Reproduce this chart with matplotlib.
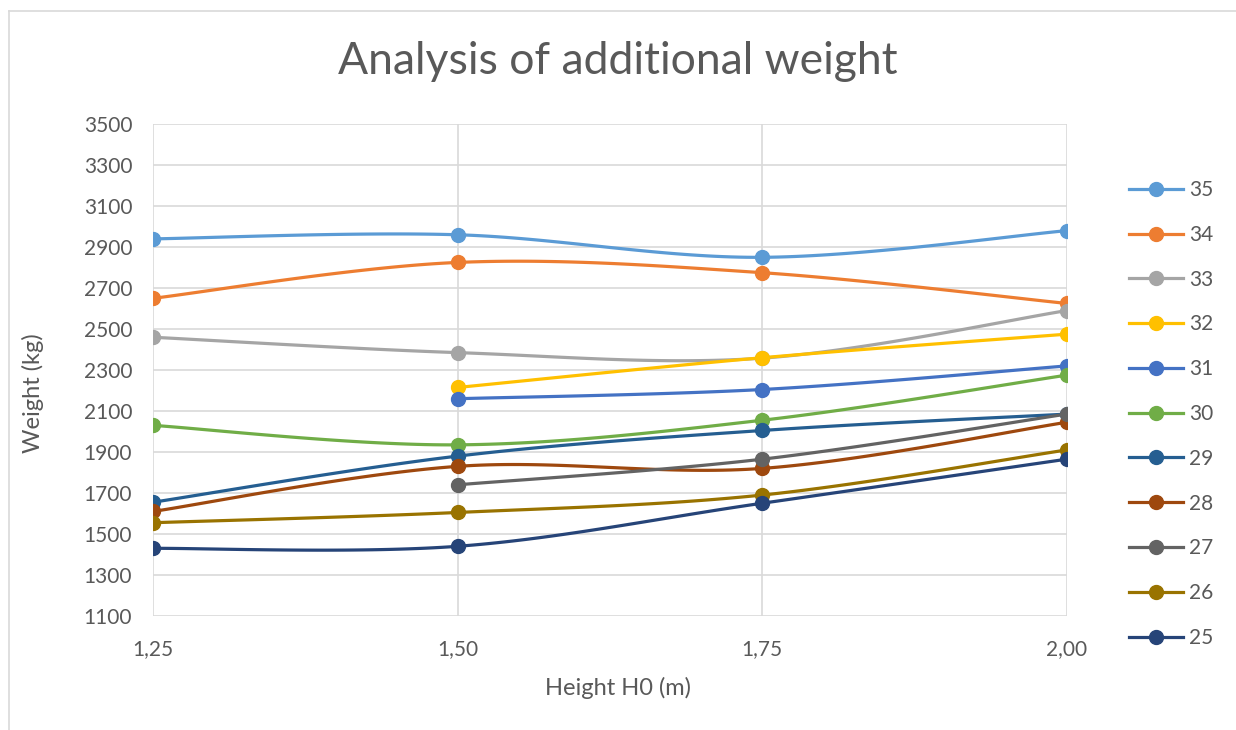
import matplotlib

matplotlib.use("Agg")
import matplotlib.pyplot as plt
import numpy as np

plt.rcParams["font.family"] = ["Lato", "DejaVu Sans"]

heights = [1.25, 1.50, 1.75, 2.00]
series_names = ["35", "34", "33", "32", "31", "30", "29", "28", "27", "26", "25"]
w35 = [2940, 2960, 2850, 2980]
w34 = [2650, 2825, 2775, 2625]
w33 = [2460, 2385, 2358, 2590]
w32 = [None, 2215, 2360, 2475]
w31 = [None, 2160, 2205, 2320]
w30 = [2030, 1935, 2055, 2275]
w29 = [1655, 1880, 2005, 2085]
w28 = [1610, 1830, 1820, 2045]
w27 = [None, 1740, 1865, 2085]
w26 = [1555, 1605, 1690, 1910]
w25 = [1430, 1440, 1650, 1865]
colors = ["#5B9BD5", "#ED7D31", "#A5A5A5", "#FFC000", "#4472C4", "#70AD47",
          "#255E91", "#9E480E", "#636363", "#997300", "#264478"]
all_weights = [w35, w34, w33, w32, w31, w30, w29, w28, w27, w26, w25]
y_ticks = list(range(1100, 3501, 200))

TEXT = "#595959"
GRID = "#D9D9D9"


def smooth(xs, ys, n=40):
    # Excel-style smoothing: cubic Bezier with control points from neighbours
    xs = np.asarray(xs, float)
    ys = np.asarray(ys, float)
    px, py = [], []
    for i in range(len(xs) - 1):
        x0, y0 = xs[max(i - 1, 0)], ys[max(i - 1, 0)]
        x1, y1 = xs[i], ys[i]
        x2, y2 = xs[i + 1], ys[i + 1]
        x3, y3 = xs[min(i + 2, len(xs) - 1)], ys[min(i + 2, len(xs) - 1)]
        c1x, c1y = x1 + (x2 - x0) / 6, y1 + (y2 - y0) / 6
        c2x, c2y = x2 - (x3 - x1) / 6, y2 - (y3 - y1) / 6
        t = np.linspace(0, 1, n)
        a, b, c, d = (1 - t) ** 3, 3 * (1 - t) ** 2 * t, 3 * (1 - t) * t ** 2, t ** 3
        px.extend(a * x1 + b * c1x + c * c2x + d * x2)
        py.extend(a * y1 + b * c1y + c * c2y + d * y2)
    return px, py


fig = plt.figure(figsize=(12.36, 7.3), dpi=100)
ax = fig.add_axes([0.1238, 0.1562, 0.863 - 0.1238, 0.830 - 0.1562])

for name, vals, col in zip(series_names, all_weights, colors):
    xs = [h for h, v in zip(heights, vals) if v is not None]
    ys = [v for v in vals if v is not None]
    sx, sy = smooth(xs, ys)
    ax.plot(sx, sy, color=col, linewidth=2.3, solid_capstyle="round", zorder=3)
    ax.plot(xs, ys, linestyle="none", marker="o", markersize=10, color=col, zorder=4)
    ax.plot([], [], color=col, linewidth=2.3, marker="o", markersize=10, label=name)

ax.set_xlim(1.25, 2.00)
ax.set_ylim(1100, 3500)
ax.set_xticks(heights)
ax.set_xticklabels([f"{h:.2f}".replace(".", ",") for h in heights])
ax.set_yticks(y_ticks)
ax.grid(True, color=GRID, linewidth=1.2, zorder=0)
ax.set_axisbelow(True)
for s in ax.spines.values():
    s.set_visible(False)
ax.tick_params(length=0, labelsize=15, colors=TEXT)
ax.tick_params(axis="x", pad=17)
ax.tick_params(axis="y", pad=15)

fig.text(0.5, 1 - 688 / 730, "Height H0 (m)", ha="center", va="center",
         fontsize=17, color=TEXT)
fig.text(33 / 1236, 1 - 393 / 730, "Weight (kg)", ha="center", va="center",
         rotation=90, fontsize=17, color=TEXT)
fig.text(0.5, 1 - 62 / 730, "Analysis of additional weight", ha="center", va="center",
         fontsize=32, color=TEXT)

ax.legend(loc="upper left", bbox_to_anchor=(1129 / 1236, 1 - 180 / 730),
          bbox_transform=fig.transFigure, frameon=False, borderpad=0,
          fontsize=15, labelcolor=TEXT, handlelength=2.6, labelspacing=1.19,
          handletextpad=0.3, borderaxespad=0)

# chart area border (cropped at right and bottom)
fig.add_artist(plt.Line2D([8.5 / 1236, 1], [1 - 11 / 730] * 2,
                          transform=fig.transFigure, color=GRID, linewidth=1.2))
fig.add_artist(plt.Line2D([8.5 / 1236] * 2, [0, 1 - 11 / 730],
                          transform=fig.transFigure, color=GRID, linewidth=1.2))

fig.savefig("out.png", dpi=100)
